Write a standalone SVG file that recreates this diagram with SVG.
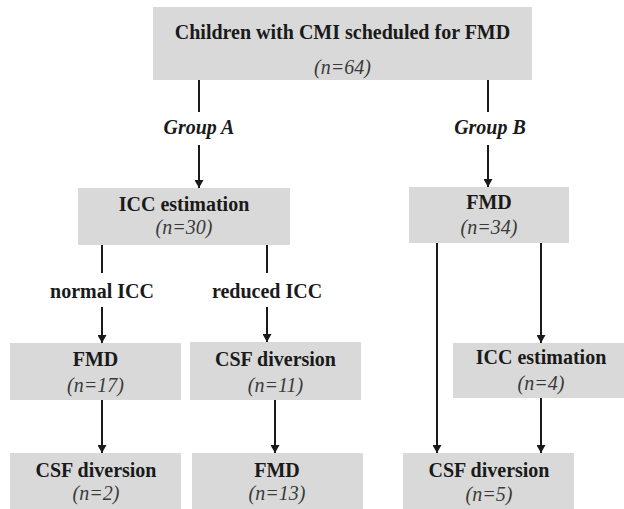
<svg xmlns="http://www.w3.org/2000/svg" width="624" height="509" viewBox="0 0 624 509">
<style>
.box{fill:#d9d9d9}
.t{font-family:"Liberation Serif","Times New Roman",serif;font-size:20px;font-weight:bold;fill:#1a1a1a;text-anchor:middle}
.n{font-family:"Liberation Serif","Times New Roman",serif;font-size:20px;font-style:italic;fill:#3a3a3a;text-anchor:middle}
.g{font-family:"Liberation Serif","Times New Roman",serif;font-size:20px;font-weight:bold;font-style:italic;fill:#1a1a1a;text-anchor:middle}
.l{font-family:"Liberation Serif","Times New Roman",serif;font-size:20px;font-weight:bold;fill:#1a1a1a;text-anchor:middle}
.c{stroke:#1a1a1a;stroke-width:2;fill:none}
</style>
<defs>
<marker id="ah" viewBox="0 0 8 9" refX="8" refY="4.5" markerWidth="8" markerHeight="9" markerUnits="userSpaceOnUse" orient="auto">
<path d="M0,0 L8,4.5 L0,9 Z" fill="#1a1a1a"/>
</marker>
</defs>
<rect width="624" height="509" fill="#ffffff"/>
<g id="connectors">
<line class="c" x1="199" y1="80" x2="199" y2="112"/>
<line class="c" x1="199" y1="145" x2="199" y2="188" marker-end="url(#ah)"/>
<line class="c" x1="488" y1="80" x2="488" y2="112"/>
<line class="c" x1="488" y1="145" x2="488" y2="187" marker-end="url(#ah)"/>
<line class="c" x1="102" y1="245" x2="102" y2="273"/>
<line class="c" x1="102" y1="307" x2="102" y2="343" marker-end="url(#ah)"/>
<line class="c" x1="267" y1="245" x2="267" y2="273"/>
<line class="c" x1="267" y1="307" x2="267" y2="342" marker-end="url(#ah)"/>
<line class="c" x1="437" y1="243" x2="437" y2="453" marker-end="url(#ah)"/>
<line class="c" x1="541" y1="243" x2="541" y2="343" marker-end="url(#ah)"/>
<line class="c" x1="102" y1="400" x2="102" y2="453" marker-end="url(#ah)"/>
<line class="c" x1="275" y1="400" x2="275" y2="453" marker-end="url(#ah)"/>
<line class="c" x1="541" y1="398" x2="541" y2="453" marker-end="url(#ah)"/>
</g>
<g id="labels">
<text class="g" x="199" y="134">Group A</text>
<text class="g" x="490" y="134">Group B</text>
<text class="l" x="102" y="298">normal ICC</text>
<text class="l" x="267" y="298">reduced ICC</text>
</g>
<g id="node-top">
<rect class="box" x="153" y="7" width="379" height="73"/>
<text class="t" x="342.5" y="39">Children with CMI scheduled for FMD</text>
<text class="n" x="342.5" y="74">(n=64)</text>
</g>
<g id="node-icc30">
<rect class="box" x="78" y="188" width="212" height="57"/>
<text class="t" x="184" y="211">ICC estimation</text>
<text class="n" x="184" y="234">(n=30)</text>
</g>
<g id="node-fmd34">
<rect class="box" x="409" y="187" width="160" height="56"/>
<text class="t" x="489" y="209">FMD</text>
<text class="n" x="489" y="234">(n=34)</text>
</g>
<g id="node-fmd17">
<rect class="box" x="10" y="343" width="171" height="57"/>
<text class="t" x="95.5" y="366">FMD</text>
<text class="n" x="95.5" y="392">(n=17)</text>
</g>
<g id="node-csf11">
<rect class="box" x="190" y="342" width="171" height="58"/>
<text class="t" x="275.5" y="366">CSF diversion</text>
<text class="n" x="275.5" y="392">(n=11)</text>
</g>
<g id="node-icc4">
<rect class="box" x="453" y="343" width="171" height="55"/>
<text class="t" x="541" y="364">ICC estimation</text>
<text class="n" x="541" y="390">(n=4)</text>
</g>
<g id="node-csf2">
<rect class="box" x="10" y="453" width="171" height="56"/>
<text class="t" x="96" y="477">CSF diversion</text>
<text class="n" x="96" y="500">(n=2)</text>
</g>
<g id="node-fmd13">
<rect class="box" x="192" y="453" width="171" height="56"/>
<text class="t" x="277" y="477">FMD</text>
<text class="n" x="277" y="500">(n=13)</text>
</g>
<g id="node-csf5">
<rect class="box" x="403" y="453" width="171" height="56"/>
<text class="t" x="489" y="477">CSF diversion</text>
<text class="n" x="489" y="501">(n=5)</text>
</g>
</svg>
